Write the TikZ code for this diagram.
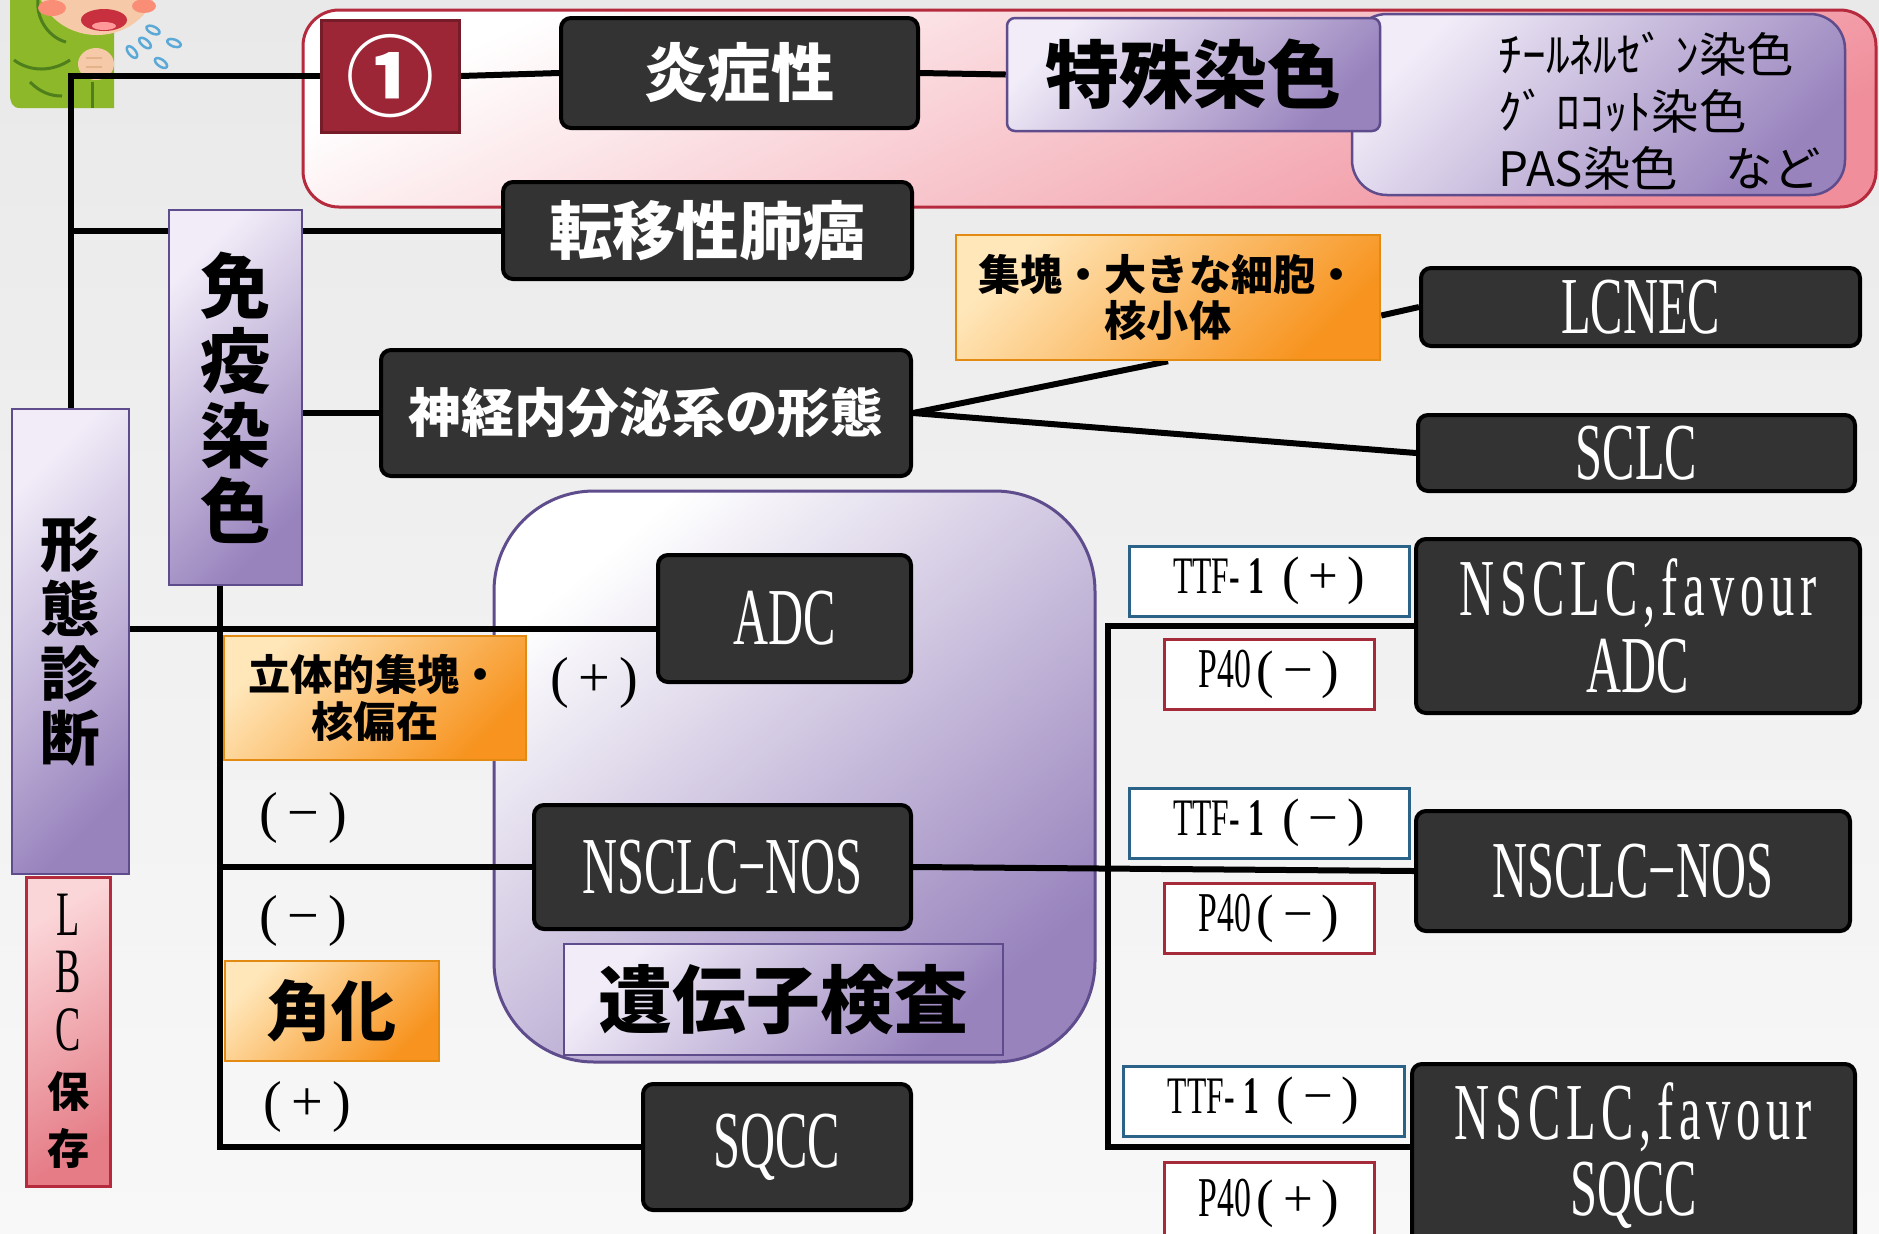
\documentclass[tikz,border=0pt]{standalone}
\usepackage{fontspec}
\setmainfont{Liberation Serif}
\newfontfamily\jp{Noto Sans CJK JP}
\newfontfamily\cond[FakeStretch=0.6]{Liberation Serif}
\newfontfamily\condsp[FakeStretch=0.6,LetterSpace=7]{Liberation Serif}
\usetikzlibrary{calc}
\pgfdeclarelayer{back}
\pgfdeclarelayer{wires}
\pgfsetlayers{back,wires,main}
\newcommand\fsz[2]{\fontsize{#1pt}{#2pt}\selectfont}

\definecolor{bgA}{HTML}{E9E9E9}
\definecolor{bgB}{HTML}{F8F8F8}
\definecolor{darkfill}{HTML}{333333}
\definecolor{purpleA}{HTML}{F1ECF8}
\definecolor{purpleB}{HTML}{9883BD}
\definecolor{purpleEdge}{HTML}{5E4C8C}
\definecolor{orangeA}{HTML}{FFE7BA}
\definecolor{orangeB}{HTML}{F7931E}
\definecolor{orangeEdge}{HTML}{E38A12}
\definecolor{panelB}{HTML}{F08E9B}
\definecolor{panelEdge}{HTML}{B52A3C}
\definecolor{oneFill}{HTML}{9C2636}
\definecolor{lbcA}{HTML}{FBD6D9}
\definecolor{lbcB}{HTML}{E57C86}
\definecolor{ttfEdge}{HTML}{2B6287}
\definecolor{pEdge}{HTML}{A52A3A}
\definecolor{shirt}{HTML}{8CB82A}
\definecolor{shirtLine}{HTML}{4E7F1C}
\definecolor{skin}{HTML}{F6C9A8}
\definecolor{mouth}{HTML}{C9303F}
\definecolor{drop}{HTML}{5AA9D6}

\begin{document}
\begin{tikzpicture}[x=0.1mm,y=-0.1mm,
  darkbox/.style={draw=black, line width=0.4mm, fill=darkfill, rounded corners=1mm,
    text=white, inner sep=0pt, align=center},
  purplebox/.style={draw=purpleEdge, line width=0.25mm, top color=purpleA,
    bottom color=purpleB, shading angle=45, inner sep=0pt, align=center},
  orangebox/.style={draw=orangeEdge, line width=0.25mm, top color=orangeA,
    bottom color=orangeB, shading angle=45, inner sep=0pt, align=center},
  ttfbox/.style={draw=ttfEdge, line width=0.3mm, fill=white, inner sep=0pt},
  pbox/.style={draw=pEdge, line width=0.3mm, fill=white, inner sep=0pt},
  wire/.style={line width=0.6mm, black},
  sign/.style={inner sep=0pt, font=\fsz{16}{18}},
  jpL/.style={font=\jp\bfseries\fsz{#1}{#1}},
  latL/.style={font=\cond\fsz{23}{20}},
]
\useasboundingbox (0,0) rectangle (1879,1233);

\begin{pgfonlayer}{back}
  % paper
  \shade[top color=bgA, bottom color=bgB] (0,0) rectangle (1879,1233);
  % coughing figure
  \fill[shirt] (10,0) -- (114,0) -- (114,108) -- (20,108)
     .. controls (12,108) and (10,102) .. (10,94) -- cycle;
  \draw[shirtLine, line width=0.3mm] (38,0) .. controls (36,20) and (50,38) .. (66,42);
  \draw[shirtLine, line width=0.3mm] (14,60) .. controls (30,72) and (52,72) .. (70,60);
  \draw[shirtLine, line width=0.3mm] (92,82) -- (92,108);
  \draw[shirtLine, line width=0.3mm] (30,82) .. controls (40,92) and (50,96) .. (62,96);
  \fill[skin] (97,-20) ellipse [x radius=60, y radius=55];
  \fill[red!30!skin] (52,8) ellipse [x radius=14, y radius=8];
  \fill[red!30!skin] (144,6) ellipse [x radius=12, y radius=7];
  \fill[mouth] (104,20) ellipse [x radius=23, y radius=11];
  \fill[red!40!white] (104,26) ellipse [x radius=12, y radius=4];
  \fill[skin] (96,64) ellipse [x radius=18, y radius=16];
  \draw[skin!70!brown, line width=0.2mm] (86,58) -- (102,58) (86,67) -- (102,67);
  \foreach \dx/\dy/\r in {153/30/-25, 145/43/-40, 174/43/-20, 132/52/-50, 161/63/-35}
    \draw[drop, line width=0.25mm] (\dx,\dy) ellipse [x radius=7, y radius=3.5, rotate=\r];
  % group panels
  \node[draw=panelEdge, line width=0.3mm, rounded corners=3.6mm, top color=white,
        bottom color=panelB, shading angle=25, minimum width=157.3mm,
        minimum height=19.7mm, inner sep=0pt] (panel) at (1089.5,108.5) {};
  \node[draw=purpleEdge, line width=0.3mm, rounded corners=10mm, top color=white,
        bottom color=purpleB, shading angle=40, minimum width=60.1mm,
        minimum height=57.1mm, inner sep=0pt] (region) at (794.5,776.5) {};
\end{pgfonlayer}

\clip (0,0) rectangle (1879,1233);

% top row
\node[draw=oneFill!75!black, line width=0.3mm, fill=oneFill, text=white, inner sep=0pt,
      minimum width=13.8mm, minimum height=11.2mm, font=\jp\bfseries\fsz{25}{25}]
      (one) at (390,76) {①};
\node[darkbox, minimum width=35.7mm, minimum height=11mm, jpL=18] (inflam) at (739.5,73) {炎症性};
\node[purplebox, rounded corners=3.5mm, minimum width=49.3mm, minimum height=18.1mm]
      (stains) at (1598.5,104.5) {};
\node[anchor=west, inner sep=0pt, align=left, font=\jp\fsz{13.5}{16.2}]
      (stainlist) at (1498,111) {ﾁｰﾙﾈﾙｾﾞ ﾝ染色\\ｸﾞ ﾛｺｯﾄ染色\\PAS染色　など};
\node[purplebox, rounded corners=0.8mm, minimum width=37.3mm, minimum height=11.3mm, jpL=21]
      (special) at (1193.5,74.5) {特殊染色};

% left columns
\node[darkbox, minimum width=40.9mm, minimum height=9.7mm, jpL=18] (meta) at (707.5,230.5) {転移性肺癌};
\node[purplebox, minimum width=13.3mm, minimum height=37.5mm, font=\jp\bfseries\fsz{20}{21.3}]
      (immuno) at (235.5,397.5) {免\\疫\\染\\色};
\node[purplebox, minimum width=11.7mm, minimum height=46.5mm, font=\jp\bfseries\fsz{17}{18.4}]
      (morph) at (70.5,641.5) {形\\態\\診\\断};
\node[draw=panelEdge, line width=0.3mm, top color=lbcA, bottom color=lbcB, shading angle=30,
      inner sep=0pt, align=center, minimum width=8.5mm, minimum height=30.9mm,
      font=\fsz{12}{16.3}]
      (lbc) at (68.5,1031.5)
      {{\cond\fontsize{18pt}{16.3pt}\selectfont L}\\{\cond\fontsize{18pt}{16.3pt}\selectfont B}\\{\cond\fontsize{18pt}{16.3pt}\selectfont C}\\{\jp\bfseries 保}\\{\jp\bfseries 存}};

% neuroendocrine branch
\node[darkbox, minimum width=53mm, minimum height=12.6mm, jpL=15] (neuro) at (646,413) {神経内分泌系の形態};
\node[orangebox, minimum width=42.4mm, minimum height=12.5mm, font=\jp\bfseries\fsz{12}{13.2}]
      (large) at (1168,297.5) {集塊・大きな細胞・\\核小体};
\node[darkbox, minimum width=43.9mm, minimum height=7.8mm, latL] (lcnec) at (1640.5,307) {LCNEC};
\node[darkbox, minimum width=43.7mm, minimum height=7.6mm, latL] (sclc) at (1636.5,453) {SCLC};

% morphology branch
\node[darkbox, minimum width=25.3mm, minimum height=12.7mm, latL] (adc) at (784.5,618.5) {ADC};
\node[orangebox, minimum width=30.2mm, minimum height=12.4mm, font=\jp\bfseries\fsz{12}{13.4}]
      (solid) at (375,698) {立体的集塊・\\核偏在};
\node[darkbox, minimum width=37.7mm, minimum height=12.4mm, latL] (nos) at (722.5,867) {NSCLC−NOS};
\node[orangebox, minimum width=21.4mm, minimum height=10mm, jpL=18.5] (kerat) at (332,1011) {角化};
\node[purplebox, minimum width=43.9mm, minimum height=11.1mm, jpL=21] (genetest) at (783.5,999.5) {遺伝子検査};
\node[darkbox, minimum width=26.8mm, minimum height=12.6mm, latL] (sqcc) at (777,1147) {SQCC};

\node[sign] (plusadc) at (594,683) {(\,+\,)};
\node[sign] (minusa) at (303,818) {(\,−\,)};
\node[sign] (minusb) at (303,921) {(\,−\,)};
\node[sign] (pluskr) at (307,1107) {(\,+\,)};

% immunostaining results
\node[ttfbox, minimum width=28mm, minimum height=7mm] (ttfa) at (1269,581)
      {{\cond\fsz{15}{16}TTF-\,\textbf{1}}\enspace{\fsz{15}{16}(\,+\,)}\hspace{2mm}};
\node[pbox, minimum width=21mm, minimum height=7mm] (p40a) at (1269,674)
      {{\cond\fsz{16}{16}P40}\,{\fsz{15}{16}(\,−\,)}\hspace{2mm}};
\node[darkbox, minimum width=44.4mm, minimum height=17.4mm, font=\fsz{23}{20}] (favadc) at (1638,626)
      {{\condsp NSCLC,favour}\\[0.6mm]{\cond ADC}};
\node[ttfbox, minimum width=28mm, minimum height=7mm] (ttfb) at (1269,823)
      {{\cond\fsz{15}{16}TTF-\,\textbf{1}}\enspace{\fsz{15}{16}(\,−\,)}\hspace{2mm}};
\node[pbox, minimum width=21mm, minimum height=7mm] (p40b) at (1269,918)
      {{\cond\fsz{16}{16}P40}\,{\fsz{15}{16}(\,−\,)}\hspace{2mm}};
\node[darkbox, minimum width=43.4mm, minimum height=12mm, latL] (nosr) at (1633,871) {NSCLC−NOS};
\node[ttfbox, minimum width=28.1mm, minimum height=7mm] (ttfc) at (1263.5,1101)
      {{\cond\fsz{15}{16}TTF-\,\textbf{1}}\enspace{\fsz{15}{16}(\,−\,)}\hspace{2mm}};
\node[pbox, minimum width=21mm, minimum height=8.3mm] (p40c) at (1269,1203.5)
      {\raisebox{0.4mm}{{\cond\fsz{16}{16}P40}\,{\fsz{15}{16}(\,+\,)}}\hspace{2mm}};
\node[darkbox, minimum width=44.3mm, minimum height=19mm, anchor=north, font=\fsz{23}{20}]
      (favsq) at (1633.5,1062)
      {\\[-2mm]{\condsp NSCLC,favour}\\[0.6mm]{\cond SQCC}};

% connectors
\coordinate (trunk) at (220,1147);
\coordinate (rtrunk) at (1108,1147);
\coordinate (adcin) at ($(adc.west)+(0,10)$);
\coordinate (largeout) at ($(large.east)+(0,18)$);
\begin{pgfonlayer}{wires}
  \draw[wire] (one.west) -| (morph.north);
  \draw[wire] (one.east) -- (inflam.west);
  \draw[wire] (inflam.east) -- (special.west);
  \draw[wire] (meta.west) -- (meta.west -| morph.north);
  \draw[wire] (immuno.east |- neuro.west) -- (neuro.west);
  \draw[wire] (neuro.east) -- (large.south);
  \draw[wire] (neuro.east) -- (sclc.west);
  \draw[wire] (largeout) -- (lcnec.west);
  \draw[wire] (adcin) -- (adcin -| morph.east);
  \draw[wire] (immuno.south -| trunk) -- (trunk) -- (sqcc.west);
  \draw[wire] (nos.west) -- (nos.west -| trunk);
  \draw[wire] (nos.east) -- (nosr.west);
  \draw[wire] (favadc.west) -| (rtrunk) -- (rtrunk -| favsq.west);
\end{pgfonlayer}
\end{tikzpicture}
\end{document}
